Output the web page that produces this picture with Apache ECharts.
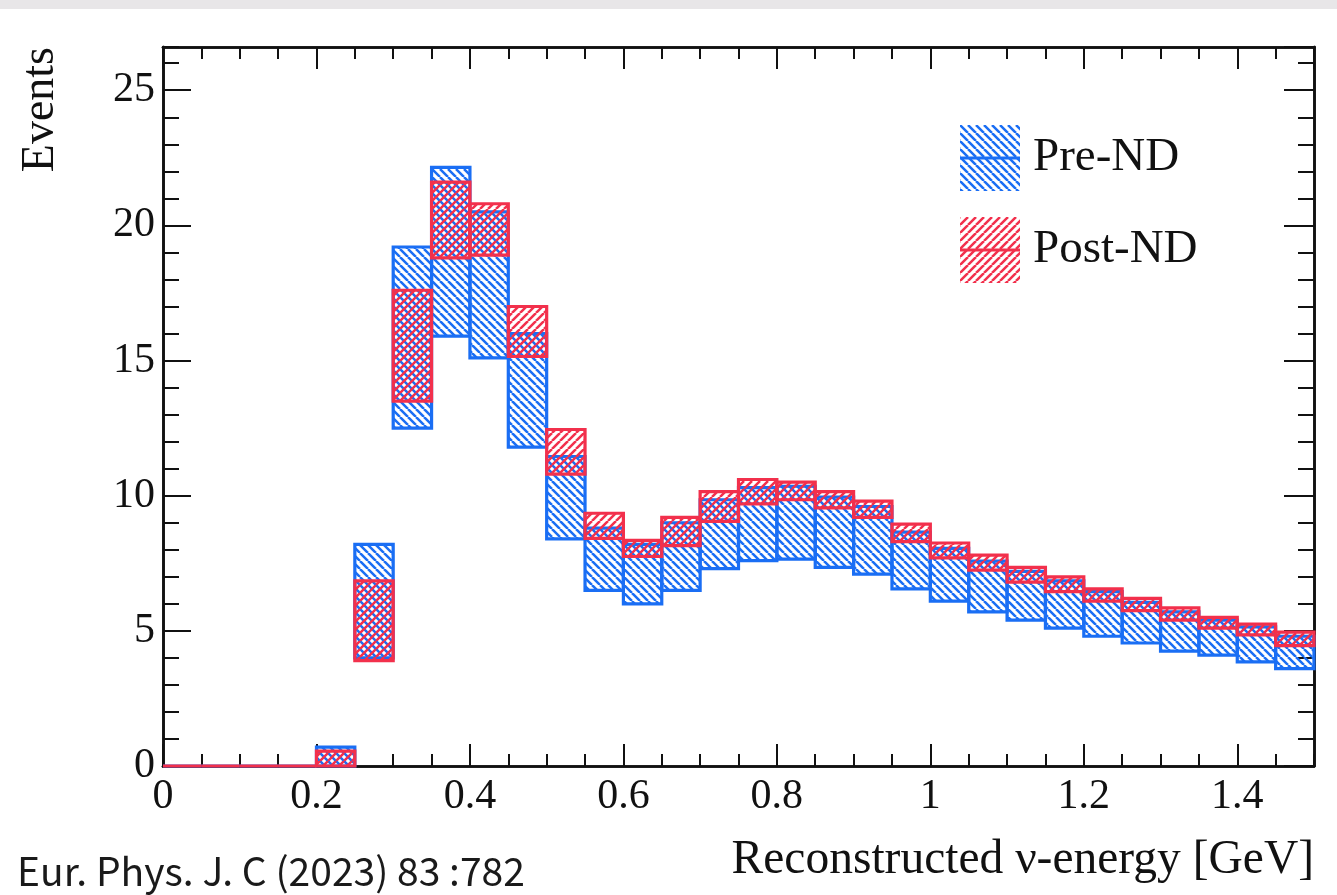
<!DOCTYPE html>
<html>
<head>
<meta charset="utf-8">
<script src="https://cdn.jsdelivr.net/npm/echarts@6/dist/echarts.min.js"></script>
<style>
  html, body { margin: 0; padding: 0; background: #e8e6e8; }
  #chart { position: absolute; left: 0; top: 9px; width: 1337px; height: 886px; background: #ffffff; }
</style>
</head>
<body>
<div id="chart"></div>
<script>
// ---- data ----
const binWidth = 0.05;
const binLow = [0, 0.05, 0.1, 0.15, 0.2, 0.25, 0.3, 0.35, 0.4, 0.45,
                0.5, 0.55, 0.6, 0.65, 0.7, 0.75, 0.8, 0.85, 0.9, 0.95,
                1.0, 1.05, 1.1, 1.15, 1.2, 1.25, 1.3, 1.35, 1.4, 1.45];
const preLow   = [0, 0, 0, 0, 0, 4.0, 12.5, 15.9, 15.1, 11.8,
                  8.4, 6.5, 6.0, 6.5, 7.3, 7.6, 7.65, 7.35, 7.1, 6.55,
                  6.1, 5.7, 5.4, 5.1, 4.8, 4.55, 4.25, 4.1, 3.85, 3.6];
const preHigh  = [0, 0, 0, 0, 0.7, 8.2, 19.2, 22.15, 20.5, 16.0,
                  11.45, 8.8, 8.2, 9.0, 9.85, 10.3, 10.35, 9.95, 9.6, 8.65,
                  8.05, 7.58, 7.2, 6.85, 6.45, 6.05, 5.7, 5.4, 5.15, 4.8];
const postLow  = [0, 0, 0, 0, 0, 3.9, 13.5, 18.8, 18.9, 15.15,
                  10.8, 8.42, 7.75, 8.15, 9.05, 9.7, 9.85, 9.55, 9.2, 8.3,
                  7.7, 7.25, 6.8, 6.45, 6.1, 5.75, 5.4, 5.1, 4.85, 4.45];
const postHigh = [0, 0, 0, 0, 0.55, 6.85, 17.6, 21.6, 20.8, 17.0,
                  12.45, 9.35, 8.35, 9.2, 10.15, 10.6, 10.5, 10.15, 9.8, 8.95,
                  8.25, 7.8, 7.35, 7.0, 6.55, 6.2, 5.85, 5.5, 5.25, 4.95];
const seriesNames = ['Pre-ND', 'Post-ND'];
const xTitle = 'Reconstructed \u03BD-energy [GeV]';
const yTitle = 'Events';
const citation = 'Eur. Phys. J. C (2023) 83 :782';

// ---- styling ----
const BLUE = '#1a6ef4';
const RED = '#f2304c';
const SERIF = 'Liberation Serif, Times New Roman, serif';

function hatch(color, dir) {
  const s = 8;
  const c = document.createElement('canvas');
  c.width = s; c.height = s;
  const ctx = c.getContext('2d');
  ctx.strokeStyle = color;
  ctx.lineWidth = 2.5;
  ctx.beginPath();
  for (let k = -1; k <= 1; k++) {
    if (dir === 'back') { ctx.moveTo(k * s, 0); ctx.lineTo(k * s + s, s); }
    else { ctx.moveTo(k * s, s); ctx.lineTo(k * s + s, 0); }
  }
  ctx.stroke();
  return { image: c, repeat: 'repeat' };
}
const bluePat = hatch(BLUE, 'back');
const redPat = hatch(RED, 'fwd');

function build(lo, hi) {
  return binLow.map((x, i) => [x, +(x + binWidth).toFixed(2), lo[i], hi[i]]);
}

function makeRender(pattern, color) {
  return function (params, api) {
    const x0 = api.value(0), x1 = api.value(1), lo = api.value(2), hi = api.value(3);
    const p0 = api.coord([x0, hi]);
    const p1 = api.coord([x1, lo]);
    return {
      type: 'rect',
      shape: { x: p0[0], y: p0[1], width: p1[0] - p0[0], height: p1[1] - p0[1] },
      style: { fill: pattern, stroke: color, lineWidth: 3.2 }
    };
  };
}

const chart = echarts.init(document.getElementById('chart'), null, { renderer: 'canvas' });

const tickLabel = { fontSize: 42, fontFamily: SERIF, color: '#111' };

function xAx(pos, interval, len, withLabel) {
  return {
    type: 'value', position: pos, min: 0, max: 1.5, interval: interval,
    axisLine: { show: withLabel !== null, onZero: false, lineStyle: { color: '#111', width: 2.6 } },
    axisTick: { show: true, inside: true, length: len, lineStyle: { color: '#111', width: 2 } },
    axisLabel: withLabel ? Object.assign({ show: true, margin: 10, showMaxLabel: false }, tickLabel) : { show: false },
    splitLine: { show: false }
  };
}
function yAx(pos, interval, len, withLabel) {
  return {
    type: 'value', position: pos, min: 0, max: 26.6, interval: interval,
    axisLine: { show: withLabel !== null, onZero: false, lineStyle: { color: '#111', width: 2.6 } },
    axisTick: { show: true, inside: true, length: len, lineStyle: { color: '#111', width: 2 } },
    axisLabel: withLabel ? Object.assign({ show: true, margin: 8, showMaxLabel: false }, tickLabel) : { show: false },
    splitLine: { show: false }
  };
}

const xMain = xAx('bottom', 0.2, 22, true);
xMain.name = xTitle;
xMain.nameLocation = 'end';
xMain.nameGap = 0;
xMain.nameMoveOverlap = false;
xMain.nameTextStyle = { fontSize: 47.5, fontFamily: SERIF, color: '#111', align: 'right', verticalAlign: 'top', padding: [71, 0, 0, 0] };

const yMain = yAx('left', 5, 28, true);
yMain.name = yTitle;
yMain.nameLocation = 'end';
yMain.nameRotate = 90;
yMain.nameGap = 0;
yMain.nameMoveOverlap = false;
yMain.nameTextStyle = { fontSize: 46, fontFamily: SERIF, color: '#111', align: 'right', verticalAlign: 'bottom', padding: [0, 0, 99, 0] };

const option = {
  animation: false,
  backgroundColor: '#ffffff',
  title: {
    text: citation, left: 17, top: 843, padding: 0,
    textStyle: { fontFamily: 'Noto Sans CJK JP', fontSize: 39, fontWeight: 'normal', color: '#1a1a1a' }
  },
  grid: { left: 163, right: 23, top: 38, bottom: 129, containLabel: false, outerBoundsMode: 'none' },
  xAxis: [
    xMain,
    xAx('bottom', 0.05, 12, false),
    xAx('top', 0.2, 22, false),
    xAx('top', 0.05, 12, false)
  ],
  yAxis: [
    yMain,
    yAx('left', 1, 16, false),
    yAx('right', 5, 30, false),
    yAx('right', 1, 16, false)
  ],
  legend: [
    {
      orient: 'vertical', left: 960, top: 116, padding: 0, itemWidth: 60, itemHeight: 66, itemGap: 26,
      icon: 'rect', selectedMode: false,
      textStyle: { fontSize: 47, fontFamily: SERIF, color: '#111', padding: [10, 0, 0, 8] },
      data: [
        { name: seriesNames[0], itemStyle: { color: bluePat, borderWidth: 0 } },
        { name: seriesNames[1], itemStyle: { color: redPat, borderWidth: 0 } }
      ]
    },
    {
      orient: 'vertical', left: 960, top: 147.5, padding: 0, itemWidth: 60, itemHeight: 3, itemGap: 89,
      icon: 'rect', selectedMode: false,
      formatter: function () { return ''; },
      textStyle: { fontSize: 1, lineHeight: 1 },
      data: [
        { name: seriesNames[0], itemStyle: { color: BLUE, borderWidth: 0 } },
        { name: seriesNames[1], itemStyle: { color: RED, borderWidth: 0 } }
      ]
    }
  ],
  series: [
    {
      name: seriesNames[0], type: 'custom', xAxisIndex: 0, yAxisIndex: 0, z: 3,
      renderItem: makeRender(bluePat, BLUE),
      itemStyle: { color: BLUE },
      encode: { x: [0, 1], y: [2, 3] },
      data: build(preLow, preHigh)
    },
    {
      name: seriesNames[1], type: 'custom', xAxisIndex: 0, yAxisIndex: 0, z: 4,
      renderItem: makeRender(redPat, RED),
      itemStyle: { color: RED },
      encode: { x: [0, 1], y: [2, 3] },
      data: build(postLow, postHigh)
    }
  ]
};
chart.setOption(option);
</script>
</body>
</html>
